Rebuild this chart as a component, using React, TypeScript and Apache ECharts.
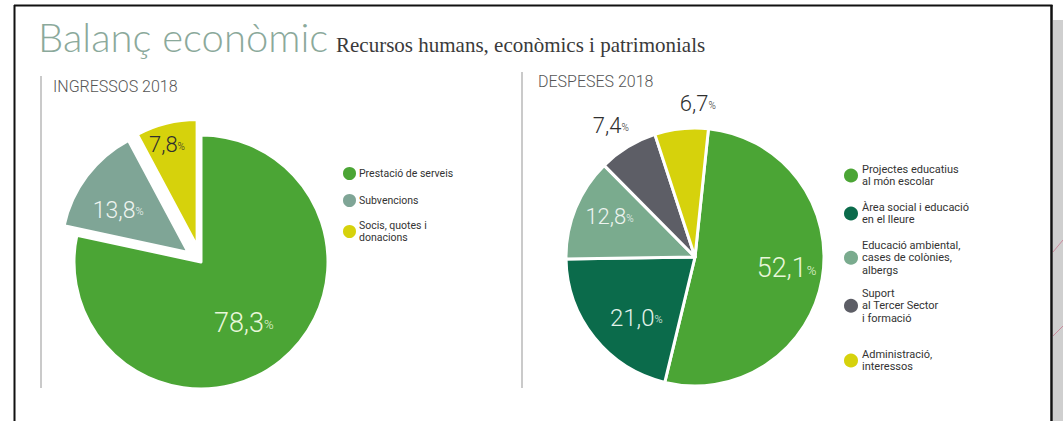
import React, { useEffect, useRef } from "react";
import * as echarts from "echarts";

// ---------- data ----------
const titleText = "Balanç econòmic";
const subtitleText = "Recursos humans, econòmics i patrimonials";

const ingTitle = "INGRESSOS 2018";
const ingCategories = ["Prestació de serveis", "Subvencions", "Socis, quotes i donacions"];
const ingValues = [78.3, 13.8, 7.8];
const ingLegendLabels = ["Prestació de serveis", "Subvencions", "Socis, quotes i\ndonacions"];
const ingExploded = [false, true, true];

const despTitle = "DESPESES 2018";
const despCategories = [
  "Projectes educatius al món escolar",
  "Àrea social i educació en el lleure",
  "Educació ambiental, cases de colònies, albergs",
  "Suport al Tercer Sector i formació",
  "Administració, interessos",
];
const despValues = [52.1, 21.0, 12.8, 7.4, 6.7];
const despLegendLabels = [
  "Projectes educatius\nal món escolar",
  "Àrea social i educació\nen el lleure",
  "Educació ambiental,\ncases de colònies,\nalbergs",
  "Suport\nal Tercer Sector\ni formació",
  "Administració,\ninteressos",
];

// ---------- styles ----------
const GREEN = "#4ba535";
const TEAL = "#0b6b4b";
const SAGE_L = "#7fa596";
const SAGE_R = "#7aab8e";
const GREY = "#5d5e66";
const YELLOW = "#d6d20c";

const ingColors = [GREEN, SAGE_L, YELLOW];
const despColors = [GREEN, TEAL, SAGE_R, GREY, YELLOW];

const ingLabelStyle = [
  { color: "#e8f7da", size: 27, dx: 1, dy: 9 },
  { color: "#eef4f0", size: 23, dx: -17, dy: -2 },
  { color: "#2f2f2f", size: 22, dx: -14, dy: -37 },
];
const despLabelStyle = [
  { color: "#e8f7da", size: 27, dx: 25, dy: 0 },
  { color: "#e2f2ea", size: 24, dx: -6, dy: 19 },
  { color: "#eef4f0", size: 22, dx: -23, dy: -15 },
  { color: "#2f2f2f", size: 22, dx: -49, dy: -74 },
  { color: "#2f2f2f", size: 22, dx: 10, dy: -86 },
];

const ingLegendTops = [165, 192, 219];
const despLegendTops = [163, 201, 239, 287, 348];

const FONT = "Roboto";

function fmt(v: number) {
  return v.toFixed(1).replace(".", ",");
}

function shiftPadding(dx: number, dy: number) {
  return [dy > 0 ? 2 * dy : 0, dx < 0 ? -2 * dx : 0, dy < 0 ? -2 * dy : 0, dx > 0 ? 2 * dx : 0];
}

function makeLabel(s: { color: string; size: number; dx: number; dy: number }) {
  return {
    show: true,
    position: "inside",
    formatter: (p: any) => `{n|${fmt(p.value)}}{p|%}`,
    padding: shiftPadding(s.dx, s.dy),
    rich: {
      n: { fontSize: s.size, color: s.color, fontFamily: FONT, fontWeight: 300 },
      p: {
        fontSize: Math.round(s.size * 0.47),
        color: s.color,
        fontFamily: FONT,
        fontWeight: 300,
        verticalAlign: "bottom",
        padding: [0, 0, Math.round(s.size * 0.2), 0],
      },
    },
  };
}

function buildOption() {
  const ingData = ingCategories.map((name, i) => ({
    name,
    value: ingValues[i],
    selected: ingExploded[i],
    itemStyle: { color: ingColors[i] },
    select: { itemStyle: { color: ingColors[i], borderColor: "#ffffff", borderWidth: 3 } },
    label: makeLabel(ingLabelStyle[i]),
  }));
  const despData = despCategories.map((name, i) => ({
    name,
    value: despValues[i],
    itemStyle: { color: despColors[i] },
    label: makeLabel(despLabelStyle[i]),
  }));

  const legends: any[] = [];
  ingCategories.forEach((name, i) => {
    legends.push({
      data: [name],
      left: 341,
      top: ingLegendTops[i],
      padding: 0,
      icon: "circle",
      itemWidth: 15,
      itemHeight: 15,
      selectedMode: false,
      formatter: () => ingLegendLabels[i],
      textStyle: { fontFamily: FONT, fontSize: 10.5, lineHeight: 12.5, color: "#333333", padding: [0, 0, 0, -3] },
    });
  });
  despCategories.forEach((name, i) => {
    legends.push({
      data: [name],
      left: 842,
      top: despLegendTops[i],
      padding: 0,
      icon: "circle",
      itemWidth: 16,
      itemHeight: 16,
      selectedMode: false,
      formatter: () => despLegendLabels[i],
      textStyle: { fontFamily: FONT, fontSize: 11, lineHeight: 12.5, color: "#333333", padding: [0, 0, 0, -2] },
    });
  });

  const common = {
    type: "pie",
    clockwise: true,
    avoidLabelOverlap: false,
    labelLine: { show: false },
    emphasis: { disabled: true },
    itemStyle: { borderColor: "#ffffff", borderWidth: 3 },
  };

  return {
    animation: false,
    backgroundColor: "#ffffff",
    title: [
      {
        text: titleText,
        left: 38,
        top: 17,
        padding: 0,
        textStyle: { fontFamily: "Lato", fontSize: 40, fontWeight: 300, color: "#8ba99b" },
      },
      {
        text: subtitleText,
        left: 336,
        top: 34,
        padding: 0,
        textStyle: { fontFamily: "Liberation Serif", fontSize: 21, fontWeight: "normal", color: "#3a3a3a" },
      },
      {
        text: ingTitle,
        left: 53,
        top: 78,
        padding: 0,
        textStyle: { fontFamily: FONT, fontSize: 16, fontWeight: 300, color: "#555555" },
      },
      {
        text: despTitle,
        left: 538,
        top: 73,
        padding: 0,
        textStyle: { fontFamily: FONT, fontSize: 16, fontWeight: 300, color: "#555555" },
      },
    ],
    legend: legends,
    graphic: [
      { type: "rect", shape: { x: 1053, y: 20, width: 10, height: 401 }, style: { fill: "#cfcfcf" }, silent: true },
      { type: "line", shape: { x1: 1053, y1: 252, x2: 1063, y2: 240 }, style: { stroke: "#c98a9c", lineWidth: 1 }, silent: true },
      { type: "line", shape: { x1: 1053, y1: 336, x2: 1063, y2: 326 }, style: { stroke: "#c98a9c", lineWidth: 1 }, silent: true },
      { type: "line", shape: { x1: 14.5, y1: 5, x2: 14.5, y2: 421 }, style: { stroke: "#111111", lineWidth: 2 }, silent: true },
      { type: "line", shape: { x1: 14, y1: 5.5, x2: 1052.5, y2: 5.5 }, style: { stroke: "#111111", lineWidth: 2 }, silent: true },
      { type: "line", shape: { x1: 1051.5, y1: 5, x2: 1051.5, y2: 421 }, style: { stroke: "#111111", lineWidth: 2.5 }, silent: true },
      { type: "line", shape: { x1: 41, y1: 76, x2: 41, y2: 388 }, style: { stroke: "#b9b9b9", lineWidth: 1.5 }, silent: true },
      { type: "line", shape: { x1: 522, y1: 72, x2: 522, y2: 388 }, style: { stroke: "#b9b9b9", lineWidth: 1.5 }, silent: true },
    ],
    series: [
      {
        ...common,
        name: "Ingressos",
        center: [201, 262],
        radius: [0, 127],
        startAngle: 90,
        selectedMode: "multiple",
        selectedOffset: 16,
        data: ingData,
      },
      {
        ...common,
        name: "Despeses",
        center: [695, 257],
        radius: [0, 129],
        startAngle: 84,
        selectedMode: false,
        data: despData,
      },
    ],
  };
}

export default function App() {
  const ref = useRef<HTMLDivElement>(null);
  useEffect(() => {
    const chart = echarts.init(ref.current as HTMLDivElement, null, { renderer: "svg" });
    chart.setOption(buildOption() as any);
    return () => chart.dispose();
  }, []);
  return (
    <div
      ref={ref}
      style={{ position: "absolute", left: 0, top: 0, width: 1063, height: 421, background: "#ffffff" }}
    />
  );
}
